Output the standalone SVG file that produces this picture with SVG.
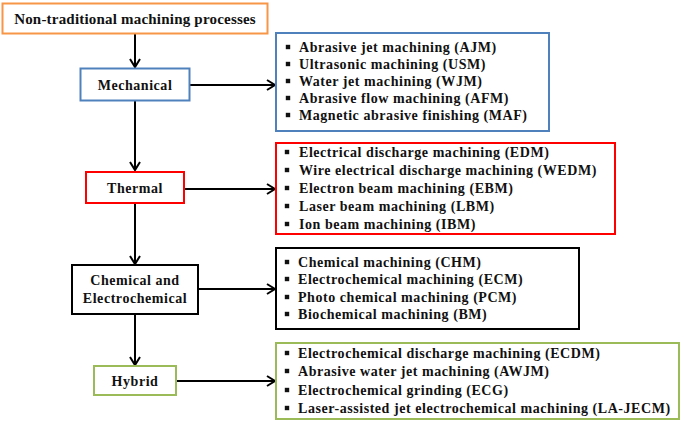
<svg xmlns="http://www.w3.org/2000/svg" xmlns:xlink="http://www.w3.org/1999/xlink" width="685" height="421" viewBox="0 0 685 421">
<style>
text{font-family:"Liberation Serif","Times New Roman",serif;font-weight:bold;font-size:14px;fill:#111;letter-spacing:0.55px}
.c{text-anchor:middle}
.t{font-size:15px;letter-spacing:0.2px}
.box{fill:#fff;stroke-width:2}
.conn{stroke:#000;stroke-width:2;fill:none;marker-end:url(#ah)}
</style>
<defs>
<marker id="ah" markerWidth="12" markerHeight="12" refX="10" refY="6" orient="auto" markerUnits="userSpaceOnUse">
<path d="M2,1 L10,6 L2,11" fill="none" stroke="#000" stroke-width="2"/>
</marker>
<rect id="b" x="-2.2" y="-2.2" width="4.4" height="4.4" fill="#111"/>
</defs>
<rect width="685" height="421" fill="#fff"/>
<g id="connectors">
<line class="conn" x1="135" y1="34" x2="135" y2="67"/>
<line class="conn" x1="135" y1="101" x2="135" y2="170"/>
<line class="conn" x1="135" y1="203" x2="135" y2="264"/>
<line class="conn" x1="135" y1="314" x2="135" y2="365"/>
<line class="conn" x1="190" y1="85" x2="275" y2="85"/>
<line class="conn" x1="184" y1="189" x2="275" y2="189"/>
<line class="conn" x1="198" y1="289" x2="275" y2="289"/>
<line class="conn" x1="176" y1="381" x2="275" y2="381"/>
</g>
<g id="root">
<rect class="box" x="2.5" y="3.5" width="265" height="30" stroke="#F79646"/>
<text class="c t" x="135" y="24">Non-traditional machining processes</text>
</g>
<g id="mechanical">
<rect class="box" x="80.5" y="68.5" width="109" height="32" stroke="#4F81BD"/>
<text class="c" x="135" y="90">Mechanical</text>
</g>
<g id="thermal">
<rect class="box" x="86" y="172" width="98" height="31" stroke="#FF0000"/>
<text class="c" x="135" y="193">Thermal</text>
</g>
<g id="chemical">
<rect class="box" x="72" y="265" width="126" height="49" stroke="#000"/>
<text class="c" x="135" y="285">Chemical and</text>
<text class="c" x="135" y="303">Electrochemical</text>
</g>
<g id="hybrid">
<rect class="box" x="94" y="366" width="82" height="29" stroke="#9BBB59"/>
<text class="c" x="135" y="386">Hybrid</text>
</g>
<g id="mechanical-list">
<rect class="box" x="276" y="33" width="273" height="98" stroke="#4F81BD"/>
<use xlink:href="#b" x="288" y="47"/><text x="299" y="52">Abrasive jet machining (AJM)</text>
<use xlink:href="#b" x="288" y="64"/><text x="299" y="69">Ultrasonic machining (USM)</text>
<use xlink:href="#b" x="288" y="81"/><text x="299" y="86">Water jet machining (WJM)</text>
<use xlink:href="#b" x="288" y="98"/><text x="299" y="103">Abrasive flow machining (AFM)</text>
<use xlink:href="#b" x="288" y="115"/><text x="299" y="120">Magnetic abrasive finishing (MAF)</text>
</g>
<g id="thermal-list">
<rect class="box" x="276" y="143" width="339" height="91" stroke="#FF0000"/>
<use xlink:href="#b" x="287" y="152"/><text x="299" y="157">Electrical discharge machining (EDM)</text>
<use xlink:href="#b" x="287" y="170"/><text x="299" y="175">Wire electrical discharge machining (WEDM)</text>
<use xlink:href="#b" x="287" y="188"/><text x="299" y="193">Electron beam machining (EBM)</text>
<use xlink:href="#b" x="287" y="206"/><text x="299" y="211">Laser beam machining (LBM)</text>
<use xlink:href="#b" x="287" y="224"/><text x="299" y="229">Ion beam machining (IBM)</text>
</g>
<g id="chemical-list">
<rect class="box" x="276" y="248" width="303" height="81" stroke="#000"/>
<use xlink:href="#b" x="287" y="262"/><text x="298" y="267">Chemical machining (CHM)</text>
<use xlink:href="#b" x="287" y="279"/><text x="298" y="284">Electrochemical machining (ECM)</text>
<use xlink:href="#b" x="287" y="297"/><text x="298" y="302">Photo chemical machining (PCM)</text>
<use xlink:href="#b" x="287" y="314"/><text x="298" y="319">Biochemical machining (BM)</text>
</g>
<g id="hybrid-list">
<rect class="box" x="276" y="343" width="403" height="76" stroke="#9BBB59"/>
<use xlink:href="#b" x="287" y="353"/><text x="298" y="358">Electrochemical discharge machining (ECDM)</text>
<use xlink:href="#b" x="287" y="371"/><text x="298" y="376">Abrasive water jet machining (AWJM)</text>
<use xlink:href="#b" x="287" y="390"/><text x="298" y="395">Electrochemical grinding (ECG)</text>
<use xlink:href="#b" x="287" y="408"/><text x="298" y="413">Laser-assisted jet electrochemical machining (LA-JECM)</text>
</g>
</svg>
